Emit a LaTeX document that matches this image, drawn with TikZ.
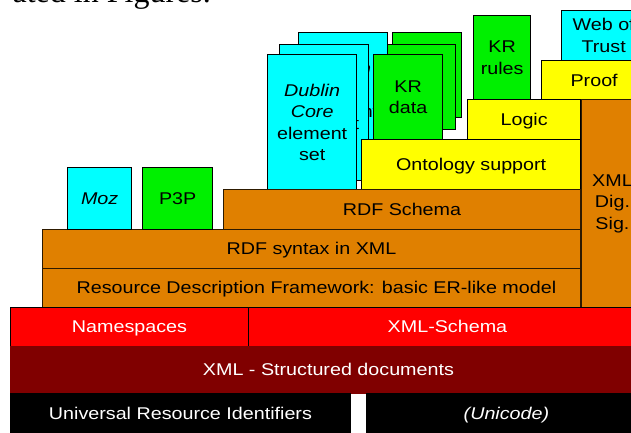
\documentclass[tikz,border=0pt]{standalone}
\usepackage{fontspec}
\newfontfamily\bx[FakeStretch=1.16]{Liberation Sans}
\newfontfamily\capfont{Liberation Serif}
\definecolor{orng}{RGB}{224,128,0}
\definecolor{dred}{RGB}{128,0,0}
\definecolor{rred}{RGB}{255,0,0}
\definecolor{cyn}{RGB}{0,255,255}
\definecolor{grn}{RGB}{0,240,0}
\definecolor{ylw}{RGB}{255,255,0}
\tikzset{
  card/.style={draw=black, line width=1.3pt, anchor=north west, inner sep=0pt,
    align=center, font=\bx\fontsize{17}{21.5}\selectfont},
  layer/.style={card, line width=0.9pt},
  cc/.style={text height=12pt, text depth=0pt},
  cyancard/.style={card, fill=cyn, minimum width=89pt, minimum height=136pt},
  greencard/.style={card, fill=grn, minimum width=69pt, minimum height=85pt},
  orangebox/.style={layer, fill=orng, draw=black!80!orng},
  whitetext/.style={text=white},
}
\begin{document}
\begin{tikzpicture}[x=1pt,y=-1pt]
\useasboundingbox (0,0) rectangle (631,433);
\clip (0,0) rectangle (631,433);
\node[anchor=base east, inner sep=0pt, font=\capfont\fontsize{32}{32}\selectfont] (cap) at (211,2.5) {ated in Figures.};
% Dublin Core stack
\node[cyancard] (dc3) at (298,32) {\textit{Dublin}\\\textit{Core}\\element\\set};
\node[cyancard] (dc2) at (279,44) {\textit{Dublin}\\\textit{Core}\\element\\set};
\node[cyancard] (dc1) at (267,54) {\textit{Dublin}\\\textit{Core}\\element\\set};
% KR data stack
\node[greencard] (kd3) at (392,32) {KR\\data};
\node[greencard, minimum width=68pt] (kd2) at (387,44) {KR\\data};
\node[greencard] (kd1) at (373,54) {KR\\data};
% upper layers
\node[card, fill=grn, minimum width=57pt, minimum height=84pt] (krr) at (473,15) {KR\\rules};
\node[card, fill=cyn, minimum width=84pt, minimum height=50pt] (wot) at (561,10) {Web of\\Trust};
\node[card, fill=ylw, minimum width=105pt, minimum height=39pt, cc] (proof) at (541,60) {Proof};
\node[card, fill=ylw, minimum width=113pt, minimum height=40pt, cc] (logic) at (467,99) {Logic};
\node[card, fill=ylw, minimum width=219pt, minimum height=50pt, cc] (onto) at (361,139) {Ontology support};
% RDF layers
\node[orangebox, minimum width=357pt, minimum height=40pt, cc] (rdfs) at (223,189) {RDF Schema};
\node[orangebox, minimum width=62pt, minimum height=208pt] (dsig) at (581,99) {XML\\Dig.\\Sig.};
\node[orangebox, minimum width=538pt, minimum height=39pt, cc] (rdfx) at (42,229) {RDF syntax in XML};
\node[orangebox, minimum width=538pt, minimum height=39pt, cc] (rdfm) at (42,268) {\hspace{10pt}Resource Description Framework: basic ER-like model};
% Moz, P3P
\node[card, fill=cyn, minimum width=64pt, minimum height=62pt, cc] (moz) at (67,167) {\textit{Moz}};
\node[card, fill=grn, minimum width=70pt, minimum height=62pt, cc] (p3p) at (142,167) {P3P};
% XML layers
\node[layer, fill=rred, minimum width=238pt, minimum height=39pt, cc, whitetext] (ns) at (10,307) {Namespaces};
\node[layer, fill=rred, minimum width=398pt, minimum height=39pt, cc, whitetext] (xs) at (248,307) {XML-Schema};
\node[layer, fill=dred, draw=dred, minimum width=636pt, minimum height=47pt, cc, whitetext] (xml) at (10,346) {XML - Structured documents};
\node[layer, fill=black, minimum width=340pt, minimum height=40pt, cc, whitetext] (uri) at (10,393) {Universal Resource Identifiers};
\node[layer, fill=black, minimum width=280pt, minimum height=40pt, cc, whitetext] (uni) at (366,393) {\textit{(Unicode)}};
\end{tikzpicture}
\end{document}
